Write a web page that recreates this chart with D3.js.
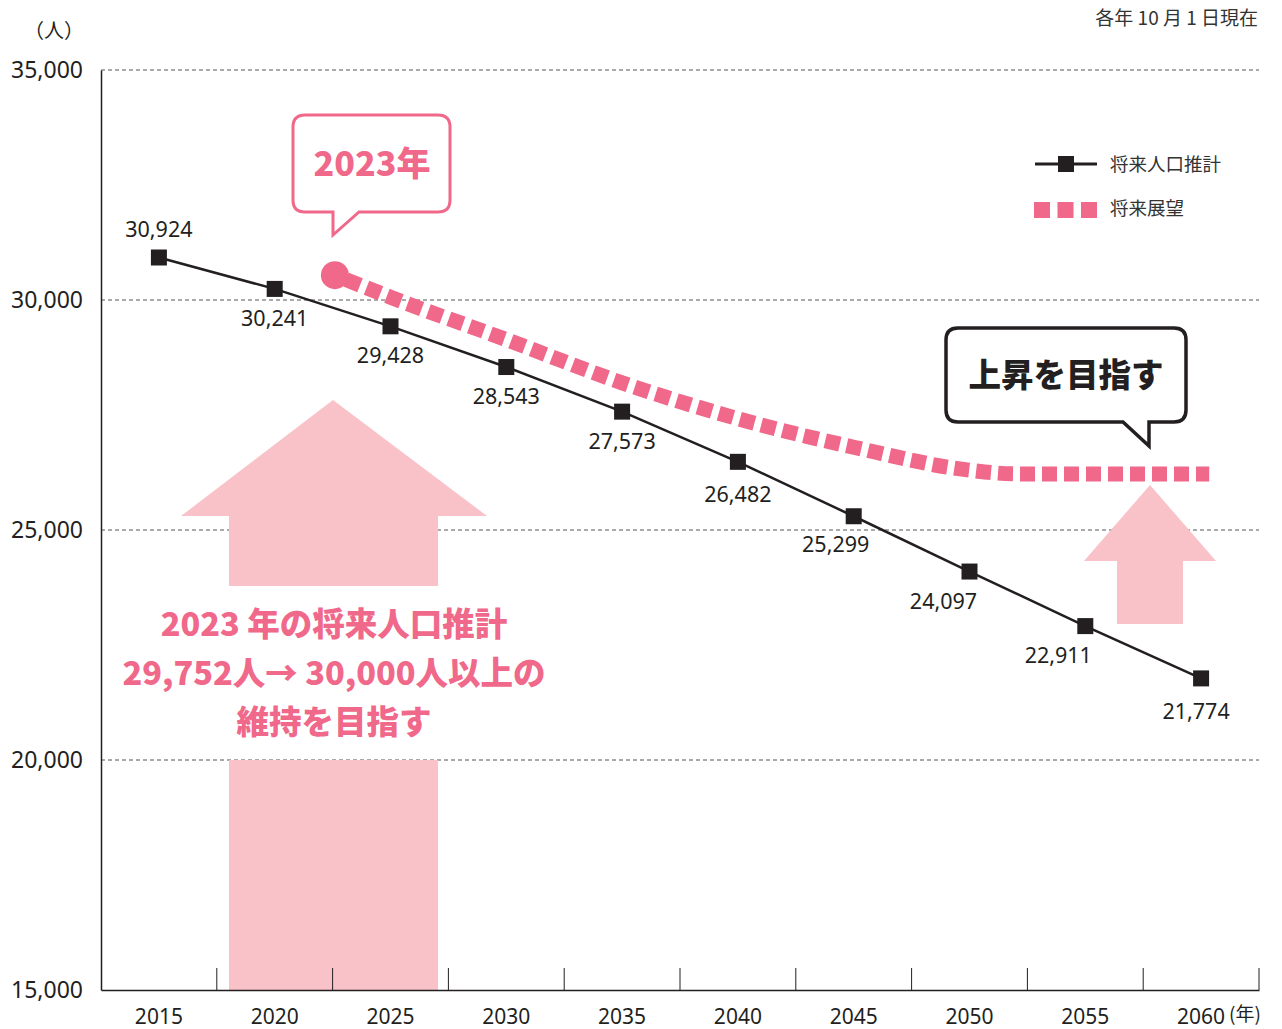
<!DOCTYPE html>
<html>
<head>
<meta charset="utf-8">
<script src="https://cdn.jsdelivr.net/npm/d3@7"></script>
<style>
  body { margin: 0; background: #fff; }
  svg { display: block; }
  text { font-family: "Noto Sans CJK JP", "Noto Sans", sans-serif; }
</style>
</head>
<body>
<div id="chart"></div>
<script>
const years = [2015, 2020, 2025, 2030, 2035, 2040, 2045, 2050, 2055, 2060];
const projection = [30924, 30241, 29428, 28543, 27573, 26482, 25299, 24097, 22911, 21774];
const visionYears = [2022.6, 2025, 2030, 2035, 2040, 2045, 2050, 2052, 2060.35];
const visionValues = [30540, 30060, 29140, 28200, 27420, 26800, 26300, 26220, 26220];
const yTicks = [15000, 20000, 25000, 30000, 35000];
const noteLines = ["2023 年の将来人口推計", "29,752人→ 30,000人以上の", "維持を目指す"];

const PINK = "#f0688a";
const LIGHT = "#f8c2c8";
const DARK = "#231f20";

const width = 1282, height = 1029;
const plot = { left: 101, right: 1259, top: 70, bottom: 990 };

const svg = d3.select("#chart").append("svg")
  .attr("width", width)
  .attr("height", height);

const x = d3.scaleBand().domain(years).range([plot.left, plot.right]);
const bw = x.bandwidth();
const xc = d => x(d) + bw / 2;
const xYear = d3.scaleLinear().domain([2015, 2060]).range([xc(2015), xc(2060)]);
const y = d3.scaleLinear().domain([15000, 35000]).range([plot.bottom, plot.top]);

// grid lines
svg.append("g")
  .selectAll("line")
  .data(yTicks.filter(d => d > 15000))
  .join("line")
  .attr("x1", plot.left).attr("x2", plot.right)
  .attr("y1", d => y(d)).attr("y2", d => y(d))
  .attr("stroke", "#555")
  .attr("stroke-width", 1)
  .attr("stroke-dasharray", "4 3");

// big arrow (left)
const bigArrow = svg.append("g").attr("fill", LIGHT);
bigArrow.append("path").attr("d", "M181,516 L333,400 L487,516 Z");
bigArrow.append("rect").attr("x", 229).attr("y", 515).attr("width", 209).attr("height", 71);
bigArrow.append("rect").attr("x", 229).attr("y", 760).attr("width", 209).attr("height", 230);

// small arrow (right)
const smallArrow = svg.append("g").attr("fill", LIGHT);
smallArrow.append("path").attr("d", "M1084,561 L1150,485 L1216,561 Z");
smallArrow.append("rect").attr("x", 1117).attr("y", 560).attr("width", 66).attr("height", 64);

// y axis
const yAxis = svg.append("g").attr("transform", `translate(${plot.left},0)`)
  .call(d3.axisLeft(y).tickValues(yTicks).tickSize(0).tickPadding(18).tickFormat(d3.format(",")));
yAxis.select(".domain").attr("stroke", DARK).attr("stroke-width", 1.5);
yAxis.selectAll("text")
  .attr("font-size", 23)
  .attr("fill", DARK)
  .style("font-family", "'Noto Sans', sans-serif");

// x axis
const xAxis = svg.append("g").attr("transform", `translate(0,${plot.bottom})`)
  .call(d3.axisBottom(x).tickSize(0).tickPadding(19));
xAxis.select(".domain").attr("stroke", DARK).attr("stroke-width", 1.5);
xAxis.selectAll("text")
  .attr("font-size", 21)
  .attr("fill", DARK)
  .style("font-family", "'Noto Sans', sans-serif");

// band separator ticks
svg.append("g")
  .selectAll("line")
  .data(years)
  .join("line")
  .attr("x1", d => x(d) + bw).attr("x2", d => x(d) + bw)
  .attr("y1", plot.bottom - 22).attr("y2", plot.bottom)
  .attr("stroke", DARK)
  .attr("stroke-width", 1);

svg.append("text")
  .attr("x", xc(2060) + 28).attr("y", 1021)
  .attr("font-size", 19).attr("fill", DARK)
  .text("(年)");

svg.append("text")
  .attr("x", 84).attr("y", 38)
  .attr("text-anchor", "end")
  .attr("font-size", 20).attr("fill", DARK)
  .text("（人）");

svg.append("text")
  .attr("x", 1258).attr("y", 25)
  .attr("text-anchor", "end")
  .attr("font-size", 19).attr("fill", "#333")
  .text("各年 10 月 1 日現在");

// vision line (pink dotted)
const visionData = visionYears.map((d, i) => [d, visionValues[i]]);
const visionLine = d3.line()
  .x(d => xYear(d[0]))
  .y(d => y(d[1]))
  .curve(d3.curveMonotoneX);
svg.append("path")
  .datum(visionData)
  .attr("d", visionLine)
  .attr("fill", "none")
  .attr("stroke", PINK)
  .attr("stroke-width", 15)
  .attr("stroke-dasharray", "15 7")
  .attr("stroke-dashoffset", -12);
svg.append("circle")
  .attr("cx", xYear(visionYears[0]))
  .attr("cy", y(visionValues[0]))
  .attr("r", 14)
  .attr("fill", PINK);

// projection line
const projData = years.map((d, i) => [d, projection[i]]);
svg.append("path")
  .datum(projData)
  .attr("d", d3.line().x(d => xc(d[0])).y(d => y(d[1])))
  .attr("fill", "none")
  .attr("stroke", DARK)
  .attr("stroke-width", 2.5);
svg.append("g")
  .selectAll("rect")
  .data(projData)
  .join("rect")
  .attr("x", d => xc(d[0]) - 8)
  .attr("y", d => y(d[1]) - 8)
  .attr("width", 16).attr("height", 16)
  .attr("fill", DARK);

// value labels
const labelShift = [[0, -20], [0, 37], [0, 37], [0, 37], [0, 37], [0, 40], [-18, 36], [-26, 37], [-27, 37], [-5, 41]];
svg.append("g")
  .selectAll("text")
  .data(projData)
  .join("text")
  .attr("x", (d, i) => xc(d[0]) + labelShift[i][0])
  .attr("y", (d, i) => y(d[1]) + labelShift[i][1])
  .attr("text-anchor", "middle")
  .attr("font-size", 21.5)
  .attr("fill", DARK)
  .style("font-family", "'Noto Sans', sans-serif")
  .text(d => d3.format(",")(d[1]));

// callout 2023年
svg.append("path")
  .attr("d", "M305,115 H438 Q450,115 450,127 V200 Q450,212 438,212 H359 L333,235 V212 H305 Q293,212 293,200 V127 Q293,115 305,115 Z")
  .attr("fill", "#fff")
  .attr("stroke", PINK)
  .attr("stroke-width", 3);
svg.append("text")
  .attr("x", 372).attr("y", 176)
  .attr("text-anchor", "middle")
  .attr("font-size", 34).attr("font-weight", 900)
  .attr("fill", PINK)
  .text("2023年");

// callout 上昇を目指す
svg.append("path")
  .attr("d", "M958,328 H1174 Q1186,328 1186,340 V410 Q1186,422 1174,422 H1149 V446 L1123,422 H958 Q946,422 946,410 V340 Q946,328 958,328 Z")
  .attr("fill", "#fff")
  .attr("stroke", DARK)
  .attr("stroke-width", 3.5);
svg.append("text")
  .attr("x", 1066).attr("y", 387)
  .attr("text-anchor", "middle")
  .attr("font-size", 32.5).attr("font-weight", 900)
  .attr("fill", DARK)
  .text("上昇を目指す");

// note text
svg.append("g")
  .selectAll("text")
  .data(noteLines)
  .join("text")
  .attr("x", 334)
  .attr("y", (d, i) => 636 + i * 49)
  .attr("text-anchor", "middle")
  .attr("font-size", 32.5).attr("font-weight", 900)
  .attr("fill", PINK)
  .text(d => d);

// legend
const legend = svg.append("g");
legend.append("line")
  .attr("x1", 1035).attr("x2", 1097).attr("y1", 164).attr("y2", 164)
  .attr("stroke", DARK).attr("stroke-width", 3);
legend.append("rect")
  .attr("x", 1058).attr("y", 156).attr("width", 16).attr("height", 16)
  .attr("fill", DARK);
legend.append("text")
  .attr("x", 1110).attr("y", 171)
  .attr("font-size", 18.5).attr("fill", "#333")
  .text("将来人口推計");
legend.append("g")
  .selectAll("rect")
  .data([0, 1, 2])
  .join("rect")
  .attr("x", d => 1034 + d * 23.5).attr("y", 202)
  .attr("width", 16).attr("height", 16)
  .attr("fill", PINK);
legend.append("text")
  .attr("x", 1110).attr("y", 215)
  .attr("font-size", 18.5).attr("fill", "#333")
  .text("将来展望");
</script>
</body>
</html>
